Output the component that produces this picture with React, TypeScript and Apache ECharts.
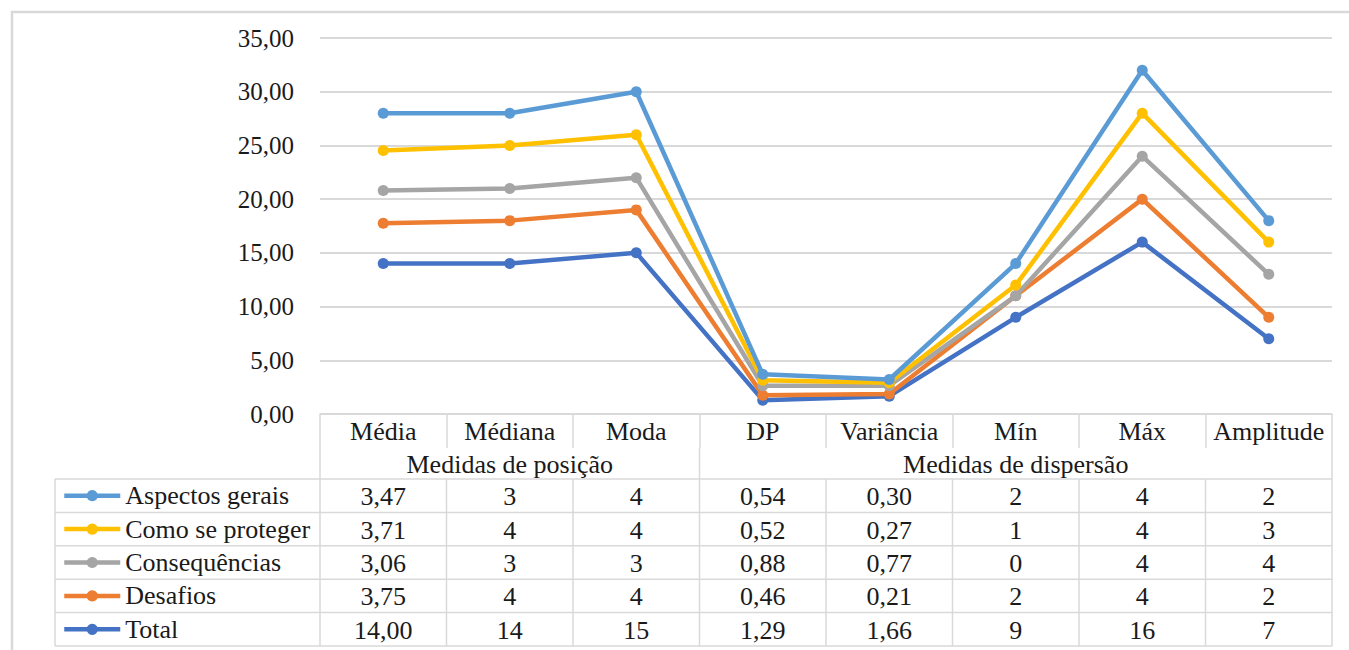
import React, { useEffect, useRef } from "react";
import * as echarts from "echarts";

const categories = ["Média", "Médiana", "Moda", "DP", "Variância", "Mín", "Máx", "Amplitude"];
const groupLabels = ["Medidas de posição", "Medidas de dispersão"];
const groupSpans = [[0, 2], [3, 7]];
const decimalColumns = [0, 3, 4];

const seriesNames = ["Aspectos gerais", "Como se proteger", "Consequências", "Desafios", "Total"];
const aspectosGerais = [3.47, 3, 4, 0.54, 0.3, 2, 4, 2];
const comoSeProteger = [3.71, 4, 4, 0.52, 0.27, 1, 4, 3];
const consequencias = [3.06, 3, 3, 0.88, 0.77, 0, 4, 4];
const desafios = [3.75, 4, 4, 0.46, 0.21, 2, 4, 2];
const total = [14.0, 14, 15, 1.29, 1.66, 9, 16, 7];
const seriesValues = [aspectosGerais, comoSeProteger, consequencias, desafios, total];
const seriesColors = ["#5B9BD5", "#FFC000", "#A5A5A5", "#ED7D31", "#4472C4"];

const yTicks = { min: 0, max: 35, interval: 5 };

const FONT = "'Liberation Serif', 'Times New Roman', Tinos, 'DejaVu Serif', serif";
const GRID_COLOR = "#d9d9d9";
const TEXT_COLOR = "#1a1a1a";

const W = 1349;
const H = 650;
const GRID = { left: 320, right: 17, top: 38, bottom: 236 };
const AXIS_Y = H - GRID.bottom; // 414
const HEADER_BOTTOM = 448;
const TABLE_TOP = 479;
const ROW_H = 33.4;
const LEGEND_LEFT = 55;

function fmt(v: number, col: number) {
  if (decimalColumns.includes(col)) return v.toFixed(2).replace(".", ",");
  return String(Math.round(v));
}

export default function App() {
  const ref = useRef<HTMLDivElement>(null);
  useEffect(() => {
    if (!ref.current) return;
    const chart = echarts.init(ref.current, null, { renderer: "svg", width: W, height: H });

    const order = [4, 3, 2, 1, 0];
    const series = order.map((i) => ({
      name: seriesNames[i],
      type: "line",
      stack: "all",
      data: seriesValues[i],
      color: seriesColors[i],
      symbol: "circle",
      symbolSize: 11,
      lineStyle: { width: 4.5, color: seriesColors[i] },
      itemStyle: { color: seriesColors[i] },
      emphasis: { disabled: true },
    }));

    const legends = seriesNames.map((name, r) => ({
      orient: "horizontal",
      left: 62,
      top: TABLE_TOP + ROW_H * r + ROW_H / 2 - 13,
      padding: 0,
      itemGap: 0,
      itemWidth: 56,
      itemHeight: 14,
      data: [name],
      selectedMode: false,
      lineStyle: { width: 4.5 },
      textStyle: { fontFamily: FONT, fontSize: 26, color: TEXT_COLOR, lineHeight: 26 },
    }));

    chart.setOption({
      animation: false,
      backgroundColor: "#ffffff",
      textStyle: { fontFamily: FONT },
      grid: { ...GRID, containLabel: false },
      legend: legends,
      xAxis: {
        type: "category",
        data: categories,
        boundaryGap: true,
        axisLine: { show: true, lineStyle: { color: GRID_COLOR, width: 1.5 } },
        axisTick: { show: true, alignWithLabel: false, interval: 0, length: HEADER_BOTTOM - AXIS_Y, lineStyle: { color: GRID_COLOR, width: 1.5 } },
        axisLabel: { interval: 0, fontFamily: FONT, fontSize: 26, color: TEXT_COLOR, margin: 4, lineHeight: 26 },
        splitLine: { show: false },
      },
      yAxis: {
        type: "value",
        min: yTicks.min,
        max: yTicks.max,
        interval: yTicks.interval,
        axisLine: { show: false },
        axisTick: { show: false },
        axisLabel: {
          fontFamily: FONT,
          fontSize: 25,
          color: TEXT_COLOR,
          margin: 26,
          formatter: (v: number) => v.toFixed(2).replace(".", ","),
        },
        splitLine: { show: true, lineStyle: { color: GRID_COLOR, width: 2 } },
      },
      series,
    });

    const centers = categories.map((_, i) => chart.convertToPixel({ xAxisIndex: 0 }, i) as number);
    const half = (centers[1] - centers[0]) / 2;
    const bounds = [centers[0] - half, ...centers.map((c) => c + half)];
    const left = bounds[0];
    const right = bounds[bounds.length - 1];
    const tableBottom = TABLE_TOP + ROW_H * seriesNames.length;

    const lineStyle = { stroke: GRID_COLOR, lineWidth: 1.5 };
    const g: any[] = [];
    g.push({ type: "rect", shape: { x: 12, y: 12, width: W + 20, height: H + 20 }, style: { fill: "none", stroke: GRID_COLOR, lineWidth: 2.5 }, silent: true });
    const groupEdges = [left, ...groupSpans.map((s) => bounds[s[1] + 1])];
    groupEdges.forEach((x) => g.push({ type: "line", shape: { x1: x, y1: HEADER_BOTTOM, x2: x, y2: TABLE_TOP }, style: lineStyle, silent: true }));
    groupLabels.forEach((label, k) => {
      const [a, b] = groupSpans[k];
      const cx = (bounds[a] + bounds[b + 1]) / 2;
      g.push({
        type: "text",
        x: cx,
        y: (HEADER_BOTTOM + TABLE_TOP) / 2 + 1,
        style: { text: label, fontFamily: FONT, fontSize: 26, fill: TEXT_COLOR, align: "center", verticalAlign: "middle" },
        silent: true,
      });
    });
    for (let r = 0; r <= seriesNames.length; r++) {
      const y = TABLE_TOP + ROW_H * r;
      g.push({ type: "line", shape: { x1: LEGEND_LEFT, y1: y, x2: right, y2: y }, style: lineStyle, silent: true });
    }
    [LEGEND_LEFT, ...bounds].forEach((x) =>
      g.push({ type: "line", shape: { x1: x, y1: TABLE_TOP, x2: x, y2: tableBottom }, style: lineStyle, silent: true })
    );
    seriesValues.forEach((vals, r) => {
      vals.forEach((v, c) => {
        g.push({
          type: "text",
          x: centers[c],
          y: TABLE_TOP + ROW_H * r + ROW_H / 2 + 1,
          style: { text: fmt(v, c), fontFamily: FONT, fontSize: 26, fill: TEXT_COLOR, align: "center", verticalAlign: "middle" },
          silent: true,
        });
      });
    });

    chart.setOption({ graphic: g });

    return () => chart.dispose();
  }, []);

  return (
    <div
      ref={ref}
      style={{ position: "fixed", left: 0, top: 0, width: W, height: H, background: "#fff" }}
    />
  );
}
